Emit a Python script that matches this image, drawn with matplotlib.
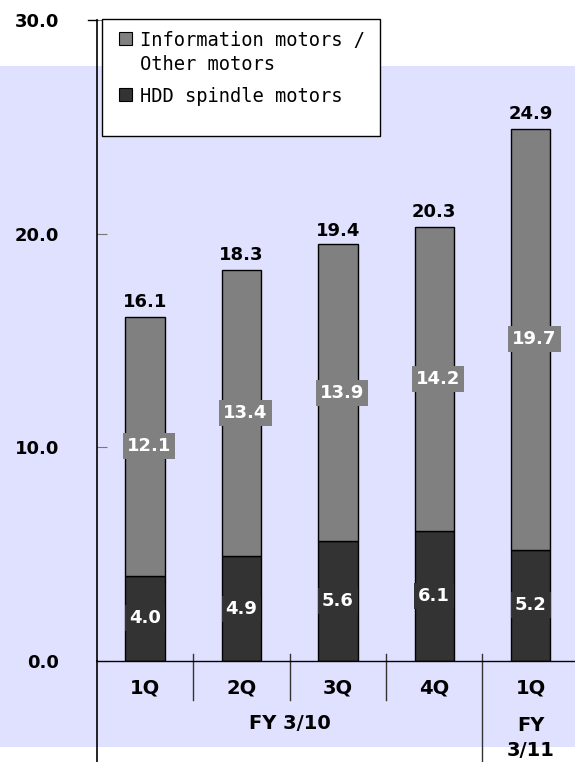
import numpy as np
import matplotlib
matplotlib.use("Agg")
import matplotlib.pyplot as plt
from matplotlib.patches import Rectangle

quarters = ["1Q", "2Q", "3Q", "4Q", "1Q"]
hdd = np.array([4.0, 4.9, 5.6, 6.1, 5.2])
info = np.array([12.1, 13.4, 13.9, 14.2, 19.7])
total = np.array([16.1, 18.3, 19.4, 20.3, 24.9])
yticks = [0, 10, 20, 30]
years = ["FY 3/10", "FY\n3/11"]

W, H = 575, 762
fig = plt.figure(figsize=(W / 100, H / 100), dpi=100)
fig.patch.set_facecolor("white")

# lavender band behind the chart
fig.patches.append(Rectangle((0, 1 - 747 / H), 1, (747 - 66) / H,
                             transform=fig.transFigure, facecolor="#E0E0FF",
                             edgecolor="none", zorder=-10))

ax = fig.add_axes([97 / W, 1 - 661 / H, 1 - 97 / W, 641 / H])
ax.patch.set_alpha(0)

x = np.arange(len(quarters))
bw = 0.41
ax.bar(x, hdd, bw, color="#333333", edgecolor="black", linewidth=1, zorder=2)
ax.bar(x, info, bw, bottom=hdd, color="#808080", edgecolor="black", linewidth=1, zorder=2)

ax.set_xlim(-0.5, 4.46)
ax.set_ylim(0, 30)
ax.set_yticks(yticks)
ax.set_yticklabels([f"{v:.1f}" for v in yticks], fontsize=13, fontweight="bold")
ax.tick_params(axis="y", direction="in", length=7, color="#777777", pad=27)
ax.set_xticks([])
for s in ["top", "right"]:
    ax.spines[s].set_visible(False)
ax.spines["left"].set_linewidth(1.2)
ax.spines["bottom"].set_linewidth(1)

# value labels
for i in range(len(x)):
    ax.text(x[i], hdd[i] / 2, f"{hdd[i]:.1f}", ha="center", va="center",
            color="white", fontsize=13, fontweight="bold", zorder=3,
            bbox=dict(boxstyle="square,pad=0.22", fc="#333333", ec="none"))
    ax.text(x[i] + 0.04, hdd[i] + info[i] / 2, f"{info[i]:.1f}", ha="center", va="center",
            color="white", fontsize=13, fontweight="bold", zorder=3,
            bbox=dict(boxstyle="square,pad=0.22", fc="#808080", ec="none"))
    ax.text(x[i], total[i] + 0.3, f"{total[i]:.1f}", ha="center", va="bottom",
            color="black", fontsize=13, fontweight="bold")

# category axis below
tr = ax.get_xaxis_transform()
for i in range(len(x)):
    ax.text(x[i], -0.042, quarters[i], transform=tr, ha="center", va="center",
            fontsize=14, fontweight="bold")
ax.text(1.5, -0.097, years[0], transform=tr, ha="center", va="center",
        fontsize=14, fontweight="bold")
ax.text(4, -0.12, years[1], transform=tr, ha="center", va="center",
        fontsize=14, fontweight="bold", linespacing=1.4)
for b in [0.5, 1.5, 2.5]:
    ax.plot([b, b], [0.011, -0.061], transform=tr, color="#333333", lw=1, clip_on=False)
ax.plot([3.5, 3.5], [0.011, -0.16], transform=tr, color="#333333", lw=1, clip_on=False)
ax.plot([0, 0], [0, -0.16], transform=ax.transAxes, color="black", lw=1.2, clip_on=False)
ax.plot([-0.018, 0], [1, 1], transform=ax.transAxes, color="black", lw=1, clip_on=False)

# legend box
fig.patches.append(Rectangle((102 / W, 1 - 136 / H), 278 / W, 117 / H,
                             transform=fig.transFigure, facecolor="white",
                             edgecolor="black", linewidth=1, zorder=5))
for yy, col in [(39, "#808080"), (95, "#333333")]:
    fig.patches.append(Rectangle((119 / W, 1 - (yy + 6) / H), 13 / W, 13 / H,
                                 transform=fig.transFigure, facecolor=col,
                                 edgecolor="black", linewidth=0.8, zorder=6))
lab_kw = dict(ha="left", va="center", fontsize=13.5, family="DejaVu Sans Mono",
              zorder=7)
fig.text(140 / W, 1 - 40 / H, "Information motors /", **lab_kw)
fig.text(140 / W, 1 - 64 / H, "Other motors", **lab_kw)
fig.text(140 / W, 1 - 96 / H, "HDD spindle motors", **lab_kw)

fig.savefig("out.png", dpi=100)
